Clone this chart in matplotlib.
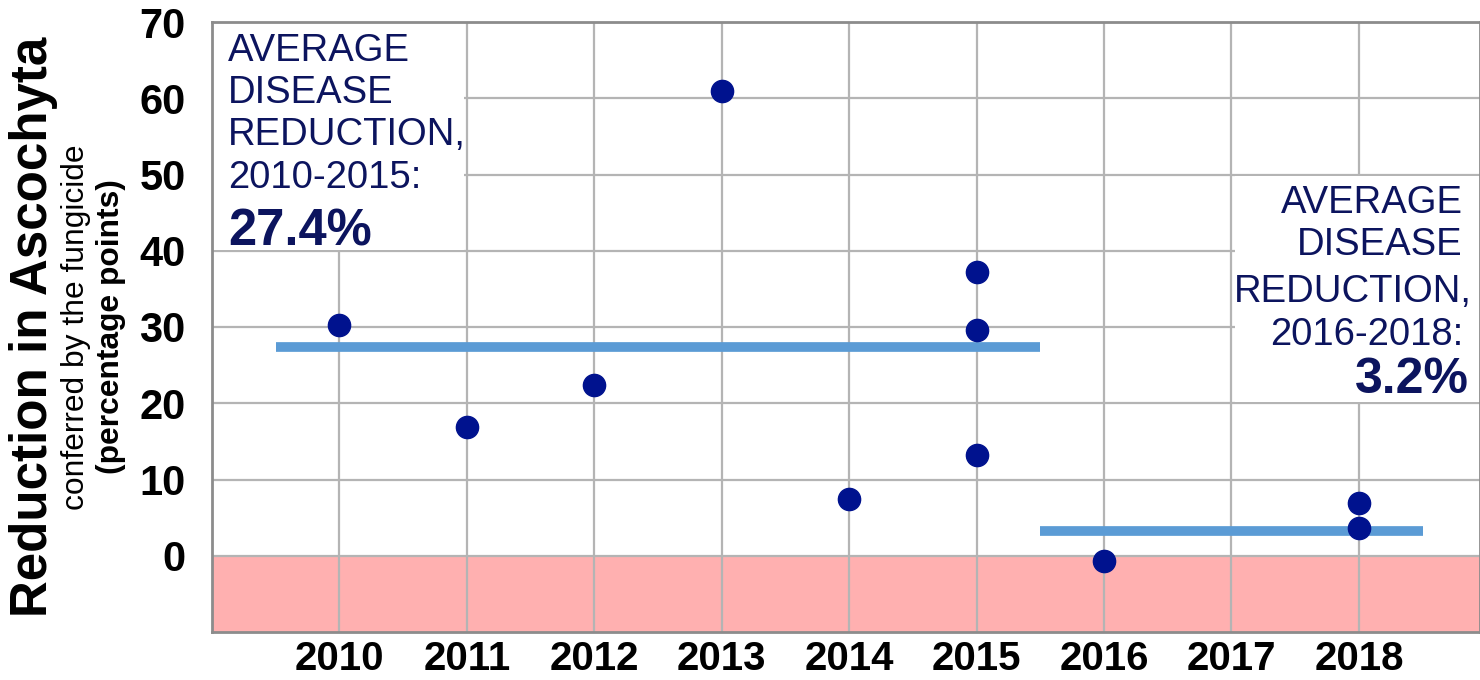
import matplotlib
matplotlib.use("Agg")
import matplotlib.pyplot as plt
from matplotlib.patches import Rectangle

plt.rcParams['font.family'] = ['Liberation Sans', 'DejaVu Sans']

# data
years = [2010, 2011, 2012, 2013, 2014, 2015, 2015, 2015, 2016, 2018, 2018]
reduction = [30.3, 16.9, 22.4, 60.9, 7.4, 37.2, 29.6, 13.2, -0.7, 6.9, 3.6]
year_ticks = [2010, 2011, 2012, 2013, 2014, 2015, 2016, 2017, 2018]
avg_early = 27.4
avg_late = 3.2
label_early = ['AVERAGE', 'DISEASE', 'REDUCTION,', '2010-2015:']
label_late = ['AVERAGE', 'DISEASE', 'REDUCTION,', '2016-2018:']

navy = '#00128e'
text_navy = '#0c145e'

fig = plt.figure(figsize=(14.8, 6.8), dpi=100)
ax = fig.add_axes([212 / 1480, 1 - 632 / 680, 1 - 212 / 1480, (632 - 22) / 680])

ax.set_xlim(2009, 2018.95)
ax.set_ylim(-10, 70)

# negative zone
ax.axhspan(-10, 0, color='#ffb0b0', zorder=0)

ax.set_xticks(year_ticks)
ax.set_yticks(range(0, 71, 10))
ax.grid(True, color='#b4b4b4', linewidth=1.6, zorder=1)
ax.set_axisbelow(True)
for s in ax.spines.values():
    s.set_color('#8c8c8c')
    s.set_linewidth(2)
ax.tick_params(length=0)
ax.tick_params(axis='y', pad=19, labelsize=30)
ax.tick_params(axis='x', pad=6, labelsize=29)
for lab in ax.get_xticklabels() + ax.get_yticklabels():
    lab.set_fontweight('bold')

# white boxes behind the annotations
ax.add_patch(Rectangle((2009, 40.15), 1.975, 29.85, facecolor='white', edgecolor='none', zorder=2))
ax.add_patch(Rectangle((2017.025, 20.15), 2.0, 29.7, facecolor='white', edgecolor='none', zorder=2))

# average lines
ax.plot([2009.5, 2015.5], [avg_early, avg_early], color='#5b9bd5', linewidth=7, solid_capstyle='butt', zorder=3)
ax.plot([2015.5, 2018.5], [avg_late, avg_late], color='#5b9bd5', linewidth=7, solid_capstyle='butt', zorder=3)

ax.plot(years, reduction, 'o', color=navy, markersize=16, zorder=4)

# left annotation
for txt, yb in zip(label_early, [64.9, 59.4, 53.9, 48.2]):
    ax.text(2009.125, yb, txt, fontsize=27.5, color=text_navy, va='baseline', ha='left', zorder=5)
ax.text(2009.125, 40.75, f'{avg_early}%', fontsize=36.5, fontweight='bold', color=text_navy,
        va='baseline', ha='left', zorder=5)

# right annotation
for txt, yb, xr in zip(label_late, [44.95, 39.4, 33.3, 27.6], [2018.816, 2018.816, 2018.886, 2018.82]):
    ax.text(xr, yb, txt, fontsize=27.5, color=text_navy, va='baseline', ha='right', zorder=5)
ax.text(2018.863, 21.3, f'{avg_late}%', fontsize=36, fontweight='bold', color=text_navy,
        va='baseline', ha='right', zorder=5)

yc = 1 - 327 / 680
fig.text(34 / 1480, yc, 'Reduction in Ascochyta', rotation=90, fontsize=36.8, fontweight='bold',
         ha='center', va='center')
fig.text(76 / 1480, yc, 'conferred by the fungicide', rotation=90, fontsize=22.9,
         ha='center', va='center')
fig.text(111 / 1480, yc, '(percentage points)', rotation=90, fontsize=22.9, fontweight='bold',
         ha='center', va='center')

fig.savefig('out.png', dpi=100)
